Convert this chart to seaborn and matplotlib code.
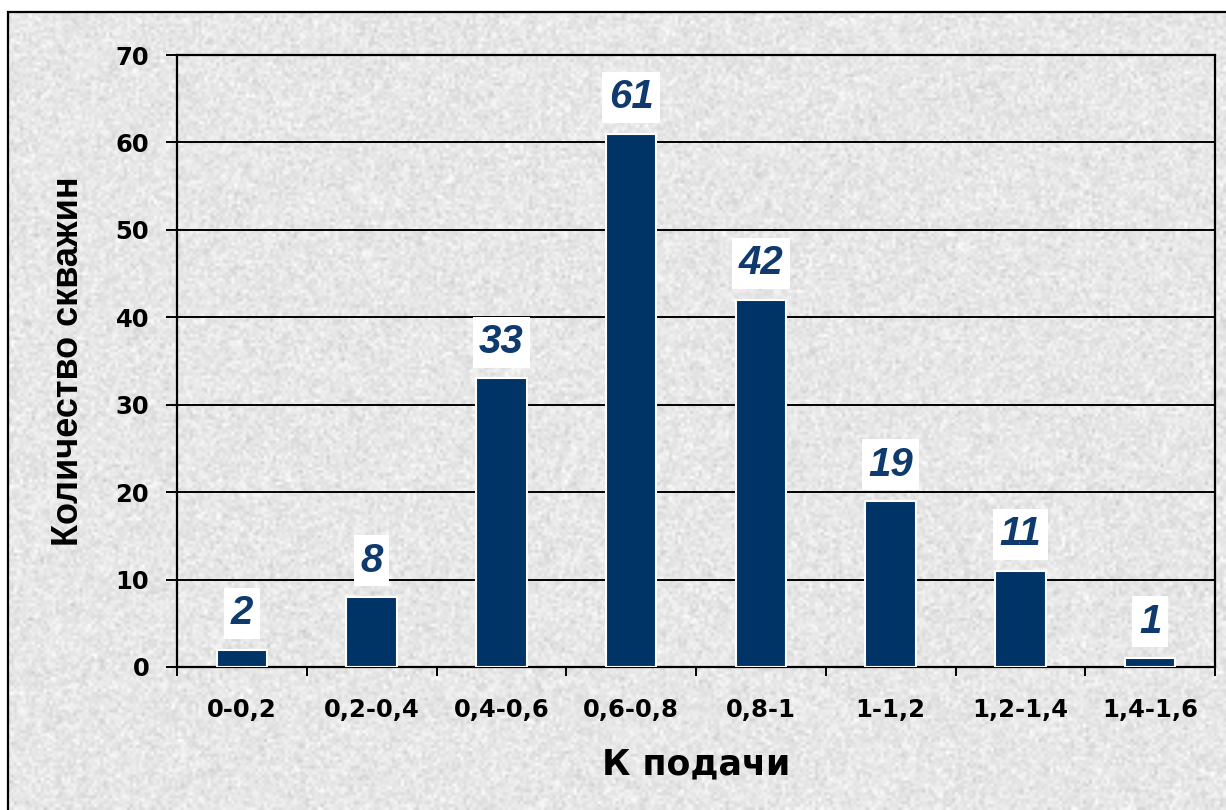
import numpy as np
import pandas as pd
import matplotlib
matplotlib.use("Agg")
import matplotlib.pyplot as plt
from matplotlib.patches import Rectangle
from matplotlib.ticker import FixedLocator, MultipleLocator
import seaborn as sns

# Distribution of wells by feed coefficient
categories = ["0-0,2", "0,2-0,4", "0,4-0,6", "0,6-0,8", "0,8-1", "1-1,2", "1,2-1,4", "1,4-1,6"]
counts = [2, 8, 33, 61, 42, 19, 11, 1]
y_ticks = [0, 10, 20, 30, 40, 50, 60, 70]

x_title = "К подачи"
y_title = "Количество скважин"

bar_color = "#003366"
label_color = "#0f3a6e"

sns.set_theme(style="white")
plt.rcParams["font.family"] = ["DejaVu Sans"]

W, H, DPI = 1226, 810, 100
fig = plt.figure(figsize=(W / DPI, H / DPI), dpi=DPI, facecolor="white")

# textured grey backdrop inside the frame
bg = fig.add_axes([0, 0, 1, 1], zorder=-5)
rng = np.random.default_rng(7)
tex = 0.905 + 0.035 * rng.standard_normal((270, 409))
bg.imshow(tex, cmap="gray", vmin=0, vmax=1, interpolation="bilinear",
          extent=[8 / W, 1.0, 0.0, 1 - 12 / H], aspect="auto")
bg.set_xlim(0, 1)
bg.set_ylim(0, 1)
bg.axis("off")

# outer frame
fig.patches.append(Rectangle((8 / W, -0.05), 1.2, 1 - 12 / H + 0.05,
                             transform=fig.transFigure, fill=False,
                             edgecolor="black", linewidth=1.6, zorder=10))

ax = fig.add_axes([177 / W, 1 - 667 / H, (1215 - 177) / W, (667 - 55) / H])
ax.set_facecolor("none")

df = pd.DataFrame({"cat": categories, "n": counts})
sns.barplot(data=df, x="cat", y="n", color=bar_color, saturation=1,
            width=0.39, edgecolor="white", linewidth=1.5, ax=ax, zorder=3)

ax.set_ylim(0, 70)
ax.set_xlim(-0.5, len(categories) - 0.5)
ax.yaxis.set_major_locator(FixedLocator(y_ticks))
ax.grid(axis="y", color="black", linewidth=1.4, zorder=1)
ax.set_axisbelow(True)

for s in ax.spines.values():
    s.set_color("black")
    s.set_linewidth(1.6)
    s.set_visible(True)

# ticks: y outward, x boundary ticks between categories
ax.tick_params(axis="y", which="major", direction="out", length=8, width=1.4,
               color="black", pad=12, left=True)
ax.xaxis.set_minor_locator(MultipleLocator(1, offset=0.5))
ax.tick_params(axis="x", which="major", length=0, pad=22)
ax.tick_params(axis="x", which="minor", direction="out", length=6.5, width=1.4,
               color="black", bottom=True)

for lbl in ax.get_xticklabels() + ax.get_yticklabels():
    lbl.set_fontsize(17.5)
    lbl.set_fontweight("bold")
    lbl.set_color("black")

ax.set_xlabel(x_title, fontsize=25, fontweight="bold", color="black", labelpad=19)
ax.set_ylabel(y_title, fontsize=26, fontweight="bold", color="black",
              family=["Liberation Sans", "DejaVu Sans"], labelpad=21)

ax.bar_label(ax.containers[0], labels=[str(v) for v in counts], padding=12.5,
             fontsize=29, fontweight="bold", fontstyle="italic", color=label_color,
             family=["Liberation Sans", "DejaVu Sans"],
             bbox=dict(boxstyle="square,pad=0.16", facecolor="white", edgecolor="none"),
             zorder=5)

fig.savefig("out.png", dpi=DPI, facecolor="white")
